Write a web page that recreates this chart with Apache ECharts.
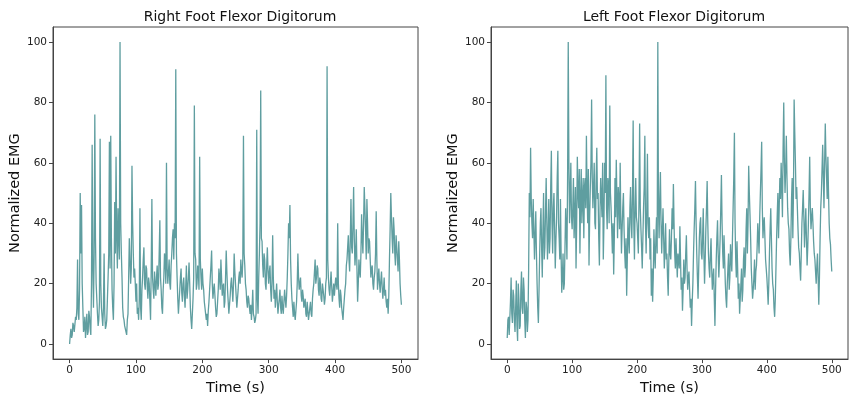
<!DOCTYPE html>
<html>
<head>
<meta charset="utf-8">
<script src="https://cdn.jsdelivr.net/npm/echarts@6/dist/echarts.min.js"></script>
<style>
html,body{margin:0;padding:0;background:#fff;}
#chart{width:850px;height:401px;}
</style>
</head>
<body>
<div id="chart"></div>
<script>
// Sampling step of the recordings (seconds)
const timeStep = 1;

const titles = ["Right Foot Flexor Digitorum", "Left Foot Flexor Digitorum"];
const xTicks = [0, 100, 200, 300, 400, 500];
const yTicks = [0, 20, 40, 60, 80, 100];

// Right foot normalized EMG, one value per second, t = 0 .. 500 (20 per row)
const rightFoot = [
  0,3,5,2,3,7,6,4,4,9,8,12,28,10,8,18,50,30,46,20,
  12,4,5,9,2,6,10,3,4,11,9,5,3,20,66,25,12,30,76,35,
  20,15,10,6,8,14,68,20,12,9,6,12,30,10,5,6,8,15,22,30,
  67,25,69,35,18,12,8,20,47,30,62,35,25,45,35,28,100,40,30,22,
  12,9,8,6,5,4,3,8,10,22,35,28,20,25,59,40,30,22,25,20,
  14,20,10,12,8,15,45,12,8,18,22,28,32,20,18,26,25,19,15,22,
  20,14,8,25,48,22,18,15,24,20,16,22,26,18,20,30,41,22,18,12,
  10,18,22,30,28,20,60,25,20,24,28,20,18,26,30,35,38,28,40,35,
  91,30,22,15,10,14,18,22,25,17,14,20,22,16,12,19,26,15,18,22,
  27,20,12,8,5,10,15,22,79,30,28,18,20,26,24,18,62,28,22,18,
  25,20,18,14,12,10,8,10,6,11,14,18,22,26,31,20,15,18,20,16,
  12,9,10,14,18,25,22,18,28,22,16,19,20,12,14,22,31,24,18,14,
  10,13,16,20,22,18,14,20,30,24,20,16,12,15,18,22,24,20,28,24,
  22,28,69,30,26,20,18,14,12,16,15,12,10,13,8,12,18,10,9,7,
  8,10,71,15,10,22,30,40,84,35,34,26,22,30,28,20,18,26,32,24,
  20,24,26,18,14,20,36,22,15,18,12,16,20,14,10,13,15,18,12,10,
  16,12,10,14,18,15,12,16,22,30,40,35,46,28,20,15,12,9,14,10,
  8,11,14,20,30,22,18,20,22,16,14,18,16,12,12,15,10,9,14,11,
  8,10,12,14,10,9,15,18,20,24,28,20,22,26,25,18,16,22,20,15,
  14,20,18,16,13,15,20,22,92,28,22,18,16,20,24,19,14,17,20,16,
  16,22,20,18,40,20,15,12,18,16,12,10,8,12,15,18,20,26,28,32,
  36,28,24,35,48,32,30,40,52,35,26,30,38,25,14,20,28,24,22,30,
  43,35,30,40,52,45,38,28,48,40,30,35,34,28,22,25,26,20,18,22,
  24,30,44,28,18,22,25,20,17,21,24,19,15,18,22,16,18,14,12,15,
  10,16,28,38,50,42,35,30,42,38,30,26,36,32,28,24,34,28,20,16,
  13
];

// Left foot normalized EMG, one value per second, t = 0 .. 500 (20 per row)
const leftFoot = [
  2,8,9,3,3,14,22,10,7,18,16,8,4,12,21,6,1,20,15,5,
  6,18,24,12,10,22,18,8,2,14,12,4,8,25,50,42,65,48,40,35,
  48,38,28,36,44,30,20,12,7,18,30,40,45,32,22,38,50,28,32,44,
  55,40,28,36,48,30,35,52,64,40,30,45,50,38,25,34,42,55,64,40,
  35,28,48,30,17,22,30,18,20,32,45,38,28,55,100,60,40,50,60,42,
  38,45,55,35,42,52,25,40,62,50,45,58,30,48,58,40,48,55,35,52,
  55,45,69,50,40,58,26,42,52,60,81,55,45,52,60,40,38,55,65,48,
  50,35,26,45,55,48,42,60,28,40,60,50,89,45,38,55,52,40,79,50,
  45,38,30,40,23,35,55,42,61,48,35,52,48,38,60,42,30,38,45,50,
  38,30,25,35,16,28,42,35,30,45,52,40,35,50,74,40,28,45,55,42,
  40,35,30,48,73,45,38,32,25,35,45,52,69,40,30,45,63,40,35,42,
  28,35,16,25,14,22,38,30,25,35,42,30,100,45,35,48,57,40,30,38,
  45,35,25,32,40,28,30,22,16,28,38,30,28,35,45,38,53,40,30,25,
  35,28,22,30,30,25,39,28,18,22,11,18,28,20,22,30,36,25,18,22,
  24,18,12,15,6,14,20,30,38,45,54,40,30,22,15,25,35,40,42,30,
  28,35,45,30,20,28,38,45,54,40,30,25,22,30,35,25,18,22,25,15,
  6,18,28,35,41,30,22,28,35,45,56,40,30,25,36,28,20,15,12,20,
  25,30,18,22,33,28,24,35,45,55,70,40,28,22,34,25,15,20,10,15,
  20,25,14,18,28,32,22,26,38,45,30,40,59,50,43,35,25,20,15,18,
  22,28,18,24,26,32,40,35,30,42,50,58,67,45,35,40,42,35,28,25,
  22,18,13,20,30,38,45,35,25,20,18,12,9,15,25,35,43,50,35,45,
  55,48,60,52,42,65,80,60,50,58,69,55,45,40,38,30,26,35,48,55,
  35,50,81,70,60,48,52,45,38,32,30,25,21,30,40,45,51,42,32,38,
  45,35,26,32,40,50,62,45,38,42,45,40,34,30,28,24,20,26,30,22,
  13,22,35,45,50,58,66,55,45,60,73,62,55,48,62,50,40,35,33,28,
  24
];

function pairs(values){
  return values.map((v, i) => [i * timeStep, v]);
}

const font = "DejaVu Sans";
const lineColor = "#5F9EA0";
const axisColor = "#444";

function xAxis(gi){
  return {
    type: "value", gridIndex: gi, min: -25, max: 525,
    name: "Time (s)", nameLocation: "middle", nameGap: 20,
    nameTextStyle: {fontFamily: font, fontSize: 14.5, color: "#111"},
    axisLine: {show: true, onZero: false, lineStyle: {color: axisColor, width: 1}},
    axisTick: {show: true, length: 4, inside: false, customValues: xTicks, lineStyle: {color: axisColor}},
    axisLabel: {fontFamily: font, fontSize: 10.5, color: "#222", margin: 6, customValues: xTicks},
    splitLine: {show: false}
  };
}
function yAxis(gi){
  return {
    type: "value", gridIndex: gi, min: -5, max: 105,
    name: "Normalized EMG", nameLocation: "middle", nameGap: 30,
    nameTextStyle: {fontFamily: font, fontSize: 14.5, color: "#111"},
    axisLine: {show: true, onZero: false, lineStyle: {color: axisColor, width: 1}},
    axisTick: {show: true, length: 4, inside: false, customValues: yTicks, lineStyle: {color: axisColor}},
    axisLabel: {fontFamily: font, fontSize: 10.5, color: "#222", margin: 6, customValues: yTicks},
    splitLine: {show: false}
  };
}

const chart = echarts.init(document.getElementById("chart"), null, {renderer: "canvas"});
chart.setOption({
  animation: false,
  backgroundColor: "#fff",
  title: [
    {text: titles[0], left: 235, top: 5, textAlign: "center",
     textStyle: {fontFamily: font, fontSize: 14, fontWeight: "normal", color: "#111"}},
    {text: titles[1], left: 669, top: 5, textAlign: "center",
     textStyle: {fontFamily: font, fontSize: 14, fontWeight: "normal", color: "#111"}}
  ],
  grid: [
    {left: 53, right: 432, top: 27, bottom: 40, show: true, borderColor: axisColor, borderWidth: 1, backgroundColor: "transparent"},
    {left: 491, right: 2, top: 27, bottom: 40, show: true, borderColor: axisColor, borderWidth: 1, backgroundColor: "transparent"}
  ],
  xAxis: [xAxis(0), xAxis(1)],
  yAxis: [yAxis(0), yAxis(1)],
  series: [
    {type: "line", xAxisIndex: 0, yAxisIndex: 0, data: pairs(rightFoot), showSymbol: false, symbol: "none",
     lineStyle: {color: lineColor, width: 1.3}},
    {type: "line", xAxisIndex: 1, yAxisIndex: 1, data: pairs(leftFoot), showSymbol: false, symbol: "none",
     lineStyle: {color: lineColor, width: 1.3}}
  ]
});
</script>
</body>
</html>
